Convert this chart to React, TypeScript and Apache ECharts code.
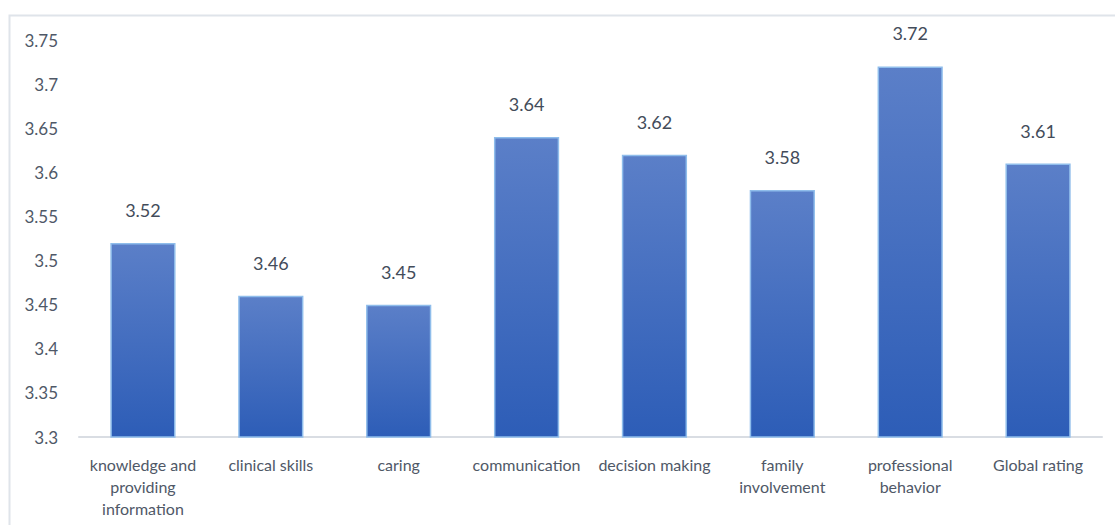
import React, { useEffect, useRef } from "react";
import * as echarts from "echarts";

const categories = [
  "knowledge and\nproviding\ninformation",
  "clinical skills",
  "caring",
  "communication",
  "decision making",
  "family\ninvolvement",
  "professional\nbehavior",
  "Global rating",
];

const scores = [3.52, 3.46, 3.45, 3.64, 3.62, 3.58, 3.72, 3.61];

const yMin = 3.3;
const yMax = 3.75;
const yStep = 0.05;

const FONT = "Lato, 'Open Sans', sans-serif";

export default function App() {
  const ref = useRef<HTMLDivElement>(null);

  useEffect(() => {
    if (!ref.current) return;
    const chart = echarts.init(ref.current, undefined, { renderer: "svg" });
    chart.setOption({
      animation: false,
      backgroundColor: "#ffffff",
      textStyle: { fontFamily: FONT },
      graphic: [
        {
          type: "rect",
          shape: { x: 9.5, y: 15.5, width: 1120, height: 520 },
          style: { fill: "none", stroke: "#dfe4ea", lineWidth: 2 },
          silent: true,
        },
      ],
      grid: { left: 79, right: 13, top: 40, bottom: 88, containLabel: false },
      xAxis: {
        type: "category",
        data: categories,
        axisLine: { show: true, lineStyle: { color: "#d9dde3", width: 2 } },
        axisTick: { show: false },
        axisLabel: {
          interval: 0,
          margin: 16,
          fontSize: 16,
          lineHeight: 22,
          color: "#4f5867",
          fontFamily: FONT,
        },
      },
      yAxis: {
        type: "value",
        min: yMin,
        max: yMax,
        interval: yStep,
        axisLine: { show: false },
        axisTick: { show: false },
        splitLine: { show: false },
        axisLabel: {
          margin: 21,
          fontSize: 17,
          color: "#4f5867",
          fontFamily: FONT,
          formatter: (v: number) => String(parseFloat(v.toFixed(2))),
        },
      },
      series: [
        {
          type: "bar",
          data: scores,
          barWidth: "51%",
          itemStyle: {
            color: new echarts.graphic.LinearGradient(0, 0, 0, 1, [
              { offset: 0, color: "#5b7fc8" },
              { offset: 1, color: "#2d5db7" },
            ]),
            borderColor: "#8fbdeb",
            borderWidth: 1.5,
          },
          label: {
            show: true,
            position: "top",
            distance: 24,
            fontSize: 18,
            color: "#434c5a",
            fontFamily: FONT,
            formatter: (p: any) => p.value.toFixed(2),
          },
        },
      ],
    });
    return () => chart.dispose();
  }, []);

  return (
    <div
      ref={ref}
      style={{ position: "fixed", left: 0, top: 0, width: 1115, height: 525 }}
    />
  );
}
